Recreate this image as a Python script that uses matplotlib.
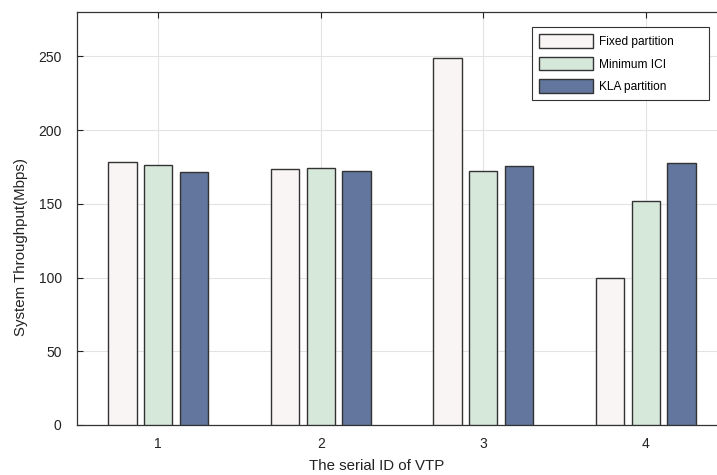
import matplotlib.pyplot as plt
import numpy as np

plt.rcParams['font.family'] = ['Liberation Sans', 'DejaVu Sans']

vtp_ids = ['1', '2', '3', '4']
fixed_partition = [178, 173.5, 248.5, 100]
minimum_ici = [176.5, 174.5, 172.5, 152]
kla_partition = [171.5, 172.5, 175.5, 177.5]

series = [
    ('Fixed partition', fixed_partition, '#f9f5f4'),
    ('Minimum ICI', minimum_ici, '#d5e8d9'),
    ('KLA partition', kla_partition, '#62769e'),
]

fig = plt.figure(figsize=(7.17, 4.75), dpi=100)
# axes runs past the right edge, like the cropped original
ax = fig.add_axes([77 / 717, 50 / 475, 650 / 717, 413 / 475])

x = np.arange(1, len(vtp_ids) + 1)
offsets = [-0.22, 0.0, 0.22]
for (label, vals, color), off in zip(series, offsets):
    ax.bar(x + off, vals, width=0.175, color=color, edgecolor='#333333',
           linewidth=1.0, label=label, zorder=3)

ax.set_xlim(0.5, 4.5)
ax.set_ylim(0, 280)
ax.set_xticks(x)
ax.set_xticklabels(vtp_ids)
ax.set_yticks([0, 50, 100, 150, 200, 250])
ax.grid(True, color='#e3e3e3', linewidth=0.8, zorder=0)
ax.tick_params(direction='in', top=True, right=True, labelsize=10,
               colors='#222222', length=4)
ax.tick_params(axis='x', pad=9)
ax.tick_params(axis='y', pad=11)
for s in ax.spines.values():
    s.set_color('#333333')
    s.set_linewidth(0.9)

ax.set_xlabel('The serial ID of VTP', fontsize=10.8, color='#222222')
ax.set_ylabel('System Throughput(Mbps)', fontsize=10.8, color='#222222')
ax.xaxis.set_label_coords(0.4615, -0.082)
ax.yaxis.set_label_coords(-0.075, 0.43)

# legend box stretched to the width of the original
top = 1 - 15 / 413
leg = ax.legend(loc='upper left', bbox_to_anchor=(455 / 650, top - 0.2, 177 / 650, 0.2),
                mode='expand', fontsize=8.6, handlelength=4.5, handleheight=1.35,
                fancybox=False, framealpha=1, edgecolor='#333333',
                borderpad=0.6, labelspacing=0.75, handletextpad=0.5,
                borderaxespad=0)
leg.get_frame().set_linewidth(0.8)

fig.savefig('out.png', dpi=100)
